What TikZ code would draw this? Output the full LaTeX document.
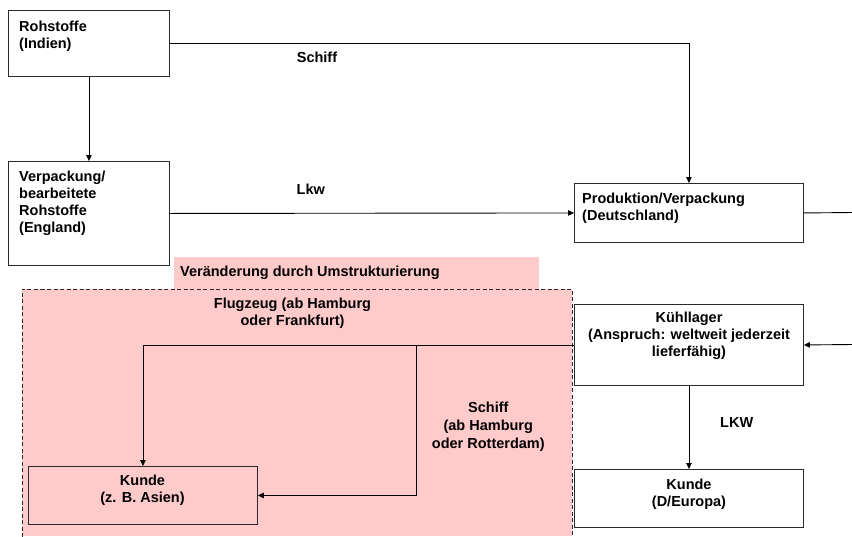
\documentclass[tikz,border=0pt]{standalone}
\usepackage{fontspec}
\setmainfont{Liberation Sans}
\usetikzlibrary{arrows.meta}
\definecolor{pinkbg}{HTML}{FFCACA}
\definecolor{edge}{HTML}{2A2A2A}
\begin{document}
\begin{tikzpicture}[x=1pt,y=-1pt,
  box/.style={draw=edge,line width=0.9pt,inner sep=0pt,anchor=north west},
  txt/.style={font=\bfseries\fontsize{14.5}{17}\selectfont,inner sep=0pt,text=black},
  conn/.style={draw=black,line width=0.9pt},
  arr/.style={conn,-{Triangle[length=6pt,width=5.5pt]}}]
\useasboundingbox (0,0) rectangle (852,536);
% pink region
\fill[pinkbg] (174,257) rectangle (539,289);
\fill[pinkbg] (22,289) rectangle (572,536);
\draw[draw=edge,line width=0.9pt,dash pattern=on 4pt off 2.5pt] (22,537) -- (22,289) -- (572,289) -- (572,537);
% boxes
\node[box,minimum width=161pt,minimum height=66pt] (ind) at (8,10) {};
\node[box,minimum width=161pt,minimum height=104pt] (eng) at (8,161) {};
\node[box,minimum width=229pt,minimum height=59pt] (prod) at (574,183) {};
\node[box,minimum width=229pt,minimum height=81pt] (kuehl) at (574,304) {};
\node[box,minimum width=229pt,minimum height=58pt] (kunded) at (574,469) {};
\node[box,minimum width=229pt,minimum height=58pt] (asia) at (28,466) {};
% texts in boxes
\node[txt,anchor=north west,align=left] (tind) at (19,20.5) {Rohstoffe\\(Indien)};
\node[txt,anchor=north west,align=left] (teng) at (19,170.5) {Verpackung/\\bearbeitete\\Rohstoffe\\(England)};
\node[txt,anchor=north west,align=left] (tprod) at (582,193) {Produktion/Verpackung\\(Deutschland)};
\node[txt,anchor=north,align=center] (tkuehl) at (689,311.5) {Kühllager\\(Anspruch: weltweit jederzeit\\lieferfähig)};
\node[txt,anchor=north,align=center] (tkunded) at (689,478.3) {Kunde\\(D/Europa)};
\node[txt,anchor=north,align=center] (tasia) at (142.5,474.3) {Kunde\\(z. B. Asien)};
% labels
\node[txt,anchor=north west] (tver) at (180,266) {Veränderung durch Umstrukturierung};
\node[txt,anchor=north,align=center] (tflug) at (292.5,297.7) {Flugzeug (ab Hamburg\\oder Frankfurt)};
\node[txt,anchor=north,align=center,font=\bfseries\fontsize{14.5}{18}\selectfont] (tschiff2) at (488.3,401.7) {Schiff\\(ab Hamburg\\oder Rotterdam)};
\node[txt,anchor=north] (tschiff) at (317,51.7) {Schiff};
\node[txt,anchor=north] (tlkw) at (310.8,184) {Lkw};
\node[txt,anchor=north] (tlkw2) at (736.7,417.7) {LKW};
% free ends
\coordinate (outprod) at (853,212.5);
\coordinate (inkuehl) at (853,344.5);
\coordinate (split) at (416,344.5);
% connectors
\draw[arr] (ind.south) -- (eng.north);
\draw[arr] (ind.east) -| (prod.north);
\draw[arr] (eng.east) -- (prod.west);
\draw[conn] (prod.east) -- (outprod);
\draw[arr] (inkuehl) -- (kuehl.east);
\draw[arr] (kuehl.south) -- (kunded.north);
\draw[arr] (kuehl.west) -| (asia.north);
\draw[arr] (split) |- (asia.east);
\end{tikzpicture}
\end{document}
